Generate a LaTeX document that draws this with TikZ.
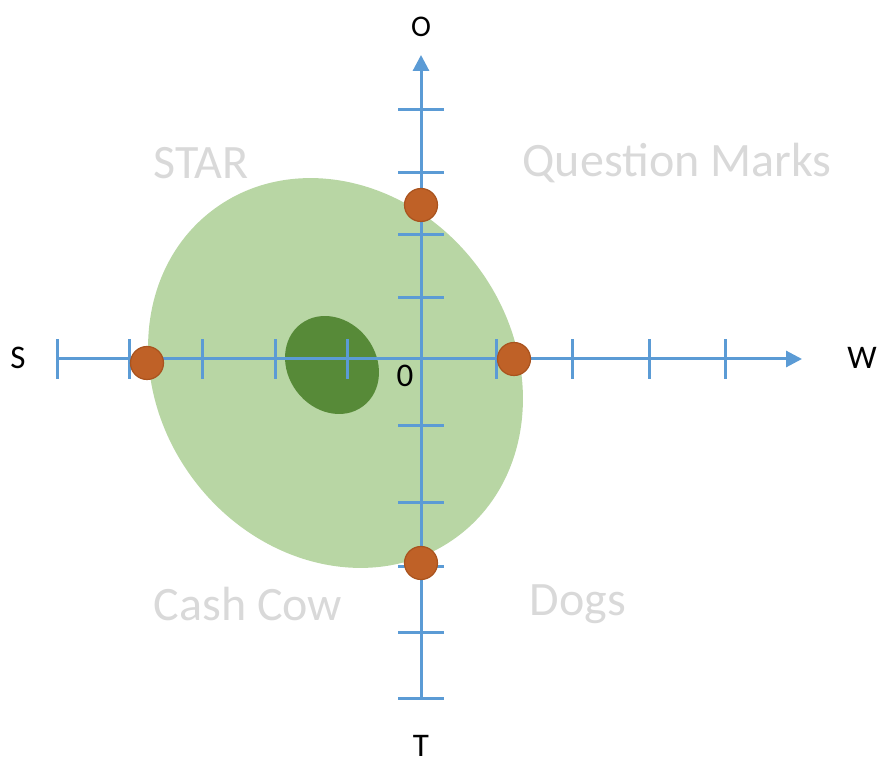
\documentclass[tikz,border=0pt]{standalone}
\usepackage{fontspec}
\setmainfont{Carlito}
\usetikzlibrary{arrows.meta}
\definecolor{axisblue}{HTML}{5B9BD5}
\definecolor{lightgreen}{HTML}{B8D6A4}
\definecolor{darkgreen}{HTML}{578A38}
\definecolor{dotorange}{HTML}{BF6127}
\definecolor{dotedge}{HTML}{A9531E}
\definecolor{quadgray}{HTML}{D9D9D9}
\tikzset{
  axisline/.style={draw=axisblue, line width=3pt},
  tickline/.style={draw=axisblue, line width=3pt},
  dotnode/.style={circle, fill=dotorange, draw=dotedge, line width=1.2pt, minimum size=33pt, inner sep=0pt},
  quadlabel/.style={text=quadgray, font=\fontsize{48}{54}\selectfont, inner sep=0pt},
  axislabel/.style={text=black, font=\fontsize{33}{38}\selectfont, inner sep=0pt},
}
\begin{document}
\begin{tikzpicture}[x=1pt,y=1pt]
\useasboundingbox (0,0) rectangle (880,760);
% ellipses
\fill[lightgreen] (335.5,387) ellipse[x radius=204, y radius=177.5, rotate=-53.2];
\fill[darkgreen] (332,395) ellipse[x radius=51.6, y radius=44.1, rotate=-52.8];
% axes
\coordinate (hstart) at (57,401);
\coordinate (hend) at (802,401);
\coordinate (vstart) at (421,62);
\coordinate (vend) at (421,705);
\draw[axisline, -{Triangle[length=16pt,width=16pt]}] (hstart) -- (hend);
\draw[axisline, -{Triangle[length=16pt,width=16pt]}] (vstart) -- (vend);
% ticks
\foreach \x in {57,129,202,275,347,496,572,649,725}
  \draw[tickline] (\x,381) -- (\x,421);
\foreach \y in {650,587,525,462,334,257,193,127,62}
  \draw[tickline] (398,\y) -- (444,\y);
% dots
\node[dotnode] (dtop) at (421,555) {};
\node[dotnode] (dleft) at (147,397) {};
\node[dotnode] (dright) at (514,401) {};
\node[dotnode] (dbottom) at (421,197) {};
% axis labels
\node[axislabel, font=\fontsize{30}{36}\selectfont] (lo) at (421,733) {O};
\node[axislabel] (lt) at (421,14) {T};
\node[axislabel] (ls) at (18,402) {S};
\node[axislabel] (lw) at (862,402) {W};
\node[axislabel] (lzero) at (405,384) {0};
% quadrant labels
\node[quadlabel] (qstar) at (201,597) {STAR};
\node[quadlabel] (qqm) at (677,597) {Question Marks};
\node[quadlabel] (qcc) at (248,156) {Cash Cow};
\node[quadlabel] (qdog) at (578,156) {Dogs};
\end{tikzpicture}
\end{document}
